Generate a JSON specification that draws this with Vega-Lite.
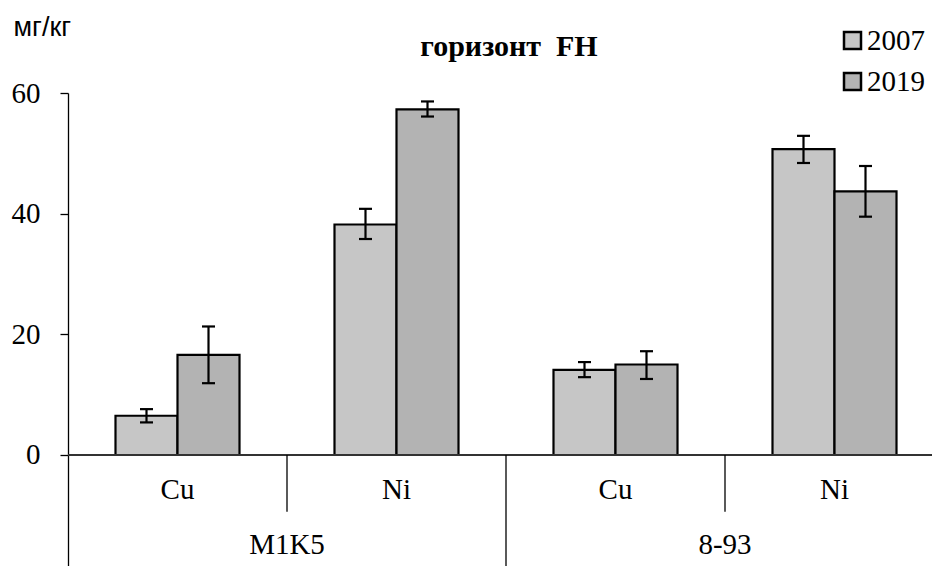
{
  "$schema": "https://vega.github.io/schema/vega-lite/v6.json",
  "width": 864,
  "height": 473,
  "autosize": {"type": "none"},
  "padding": {"left": 68, "top": 93, "right": 0, "bottom": 0},
  "background": "white",
  "config": {
    "view": {"stroke": null},
    "text": {"font": "Liberation Serif", "fontSize": 29, "color": "black"}
  },
  "title": {
    "text": "горизонт\u00a0\u00a0FH",
    "font": "Liberation Serif",
    "fontSize": 30,
    "fontWeight": "bold",
    "color": "black",
    "anchor": "middle",
    "frame": "group",
    "dx": 9,
    "offset": 0,
    "dy": 49
  },
  "data": {
    "values": [
      {"site": "M1K5", "element": "Cu", "group": "M1K5 Cu", "year": "2007", "value": 6.5, "lo": 5.4, "hi": 7.6},
      {"site": "M1K5", "element": "Cu", "group": "M1K5 Cu", "year": "2019", "value": 16.6, "lo": 11.9, "hi": 21.3},
      {"site": "M1K5", "element": "Ni", "group": "M1K5 Ni", "year": "2007", "value": 38.2, "lo": 35.8, "hi": 40.8},
      {"site": "M1K5", "element": "Ni", "group": "M1K5 Ni", "year": "2019", "value": 57.3, "lo": 56.1, "hi": 58.6},
      {"site": "8-93", "element": "Cu", "group": "8-93 Cu", "year": "2007", "value": 14.1, "lo": 12.9, "hi": 15.4},
      {"site": "8-93", "element": "Cu", "group": "8-93 Cu", "year": "2019", "value": 15.0, "lo": 12.6, "hi": 17.2},
      {"site": "8-93", "element": "Ni", "group": "8-93 Ni", "year": "2007", "value": 50.7, "lo": 48.4, "hi": 52.9},
      {"site": "8-93", "element": "Ni", "group": "8-93 Ni", "year": "2019", "value": 43.7, "lo": 39.5, "hi": 47.9}
    ]
  },
  "layer": [
    {
      "mark": {"type": "bar", "stroke": "black", "strokeWidth": 2.2},
      "encoding": {
        "x": {
          "field": "group",
          "type": "nominal",
          "scale": {"domain": ["M1K5 Cu", "M1K5 Ni", "8-93 Cu", "8-93 Ni"], "range": [0, 876], "paddingInner": 0, "paddingOuter": 0},
          "axis": null
        },
        "xOffset": {
          "field": "year",
          "type": "nominal",
          "scale": {"paddingInner": 0, "paddingOuter": 0.766}
        },
        "y": {
          "field": "value",
          "type": "quantitative",
          "scale": {"domain": [-18.4, 60], "nice": false, "zero": false},
          "axis": {
            "values": [0, 20, 40, 60],
            "grid": false,
            "domainColor": "black",
            "domainWidth": 1.3,
            "tickColor": "black",
            "tickWidth": 1.3,
            "tickSize": 8,
            "labelFont": "Liberation Serif",
            "labelFontSize": 29,
            "labelColor": "black",
            "labelPadding": 20,
            "title": "мг/кг",
            "titleFont": "Liberation Sans",
            "titleFontSize": 27,
            "titleFontWeight": "normal",
            "titleColor": "black",
            "titleAngle": 0,
            "titleAlign": "left",
            "titleBaseline": "middle",
            "titleX": -55,
            "titleY": -66
          }
        },
        "color": {
          "field": "year",
          "type": "nominal",
          "scale": {"range": ["#c6c6c6", "#b3b3b3"]},
          "legend": {
            "orient": "none",
            "legendX": 770,
            "legendY": -67,
            "title": null,
            "padding": 0,
            "symbolType": "square",
            "symbolSize": 289,
            "symbolStrokeColor": "black",
            "symbolStrokeWidth": 2.5,
            "symbolOpacity": 1,
            "labelFont": "Liberation Serif",
            "labelFontSize": 29,
            "labelColor": "black",
            "labelOffset": 0,
            "rowPadding": 11
          }
        }
      }
    },
    {
      "mark": {"type": "rule", "color": "black", "strokeWidth": 2.2},
      "encoding": {
        "x": {"field": "group", "type": "nominal"},
        "xOffset": {"field": "year", "type": "nominal"},
        "y": {"field": "lo", "type": "quantitative"},
        "y2": {"field": "hi"}
      }
    },
    {
      "mark": {"type": "tick", "color": "black", "size": 13, "thickness": 2.2, "opacity": 1},
      "encoding": {
        "x": {"field": "group", "type": "nominal"},
        "xOffset": {"field": "year", "type": "nominal"},
        "y": {"field": "lo", "type": "quantitative"}
      }
    },
    {
      "mark": {"type": "tick", "color": "black", "size": 13, "thickness": 2.2, "opacity": 1},
      "encoding": {
        "x": {"field": "group", "type": "nominal"},
        "xOffset": {"field": "year", "type": "nominal"},
        "y": {"field": "hi", "type": "quantitative"}
      }
    },
    {
      "mark": {"type": "rule", "color": "#333333", "strokeWidth": 1.3},
      "encoding": {"y": {"datum": 0}}
    },
    {
      "transform": [{"filter": "datum.year == '2007' && datum.element == 'Cu'"}],
      "mark": {"type": "rule", "color": "black", "strokeWidth": 1.3},
      "encoding": {
        "x": {"field": "group", "type": "nominal", "bandPosition": 1},
        "y": {"datum": 0},
        "y2": {"datum": -9.4}
      }
    },
    {
      "transform": [{"filter": "datum.year == '2007' && datum.element == 'Ni' && datum.site == 'M1K5'"}],
      "mark": {"type": "rule", "color": "black", "strokeWidth": 1.3},
      "encoding": {
        "x": {"field": "group", "type": "nominal", "bandPosition": 1},
        "y": {"datum": 0},
        "y2": {"datum": -18.4}
      }
    },
    {
      "transform": [{"filter": "datum.year == '2007'"}],
      "mark": {"type": "text", "baseline": "middle", "align": "center"},
      "encoding": {
        "x": {"field": "group", "type": "nominal"},
        "y": {"datum": -5.8},
        "text": {"field": "element"}
      }
    },
    {
      "transform": [{"filter": "datum.year == '2007' && datum.element == 'Cu'"}],
      "mark": {"type": "text", "baseline": "middle", "align": "center"},
      "encoding": {
        "x": {"field": "group", "type": "nominal", "bandPosition": 1},
        "y": {"datum": -14.9},
        "text": {"field": "site"}
      }
    }
  ]
}
